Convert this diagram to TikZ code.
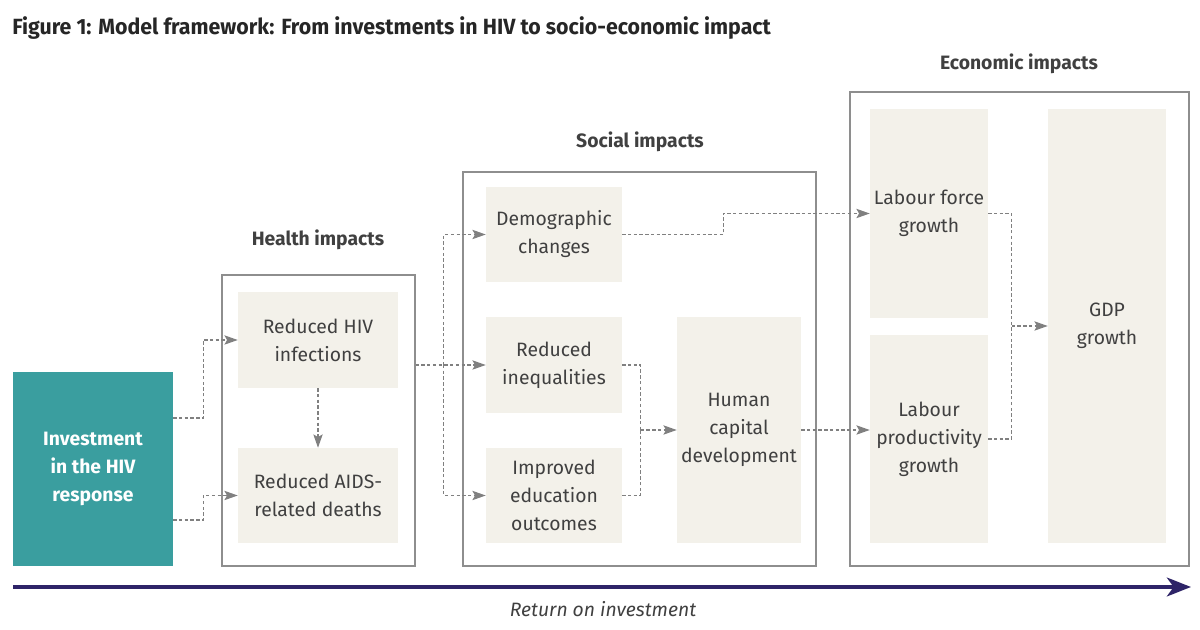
\documentclass[tikz,border=0pt]{standalone}
\usepackage{fontspec}
\setmainfont{Fira Sans}
\usepackage{tikz}
\usetikzlibrary{arrows.meta,positioning,calc}

\definecolor{boxfill}{HTML}{F3F1EA}
\definecolor{framegray}{HTML}{8E8E8E}
\definecolor{flowgray}{HTML}{808080}
\definecolor{textgray}{HTML}{404040}
\definecolor{hivteal}{HTML}{3A9E9F}
\definecolor{roinavy}{HTML}{2E2468}

\begin{document}
\begin{tikzpicture}[
    x = 0.75pt, y = -0.75pt, % pixel grid, y downwards
    boxsize/.style 2 args = {minimum width=#1*0.75pt, minimum height=#2*0.75pt},
    impact/.style = {fill=boxfill, text=textgray, inner sep=0pt, align=center,
        font=\fontsize{14.5}{21}\selectfont},
    frame/.style = {draw=framegray, line width=1pt, inner sep=0pt},
    grouplabel/.style = {text=textgray, font=\fontsize{14.5}{18}\selectfont\bfseries},
    flowline/.style = {draw=flowgray, line width=0.9pt, dash pattern=on 2.5pt off 1.8pt},
    flow/.style = {flowline, -{Stealth[length=10pt, width=7pt, inset=2pt]}},
    roi/.style = {draw=roinavy, line width=3.5pt,
        -{Stealth[length=18pt, width=14pt, inset=5pt]}}
    ]
    \useasboundingbox (0,0) rectangle (1200,630);

    % title
    \node[anchor=base west, inner sep=0pt, text=black!85] (title) at (12,35)
        {\scalebox{0.97}[1]{\fontsize{16.5}{20}\selectfont\bfseries
        Figure 1: Model framework: From investments in HIV to socio-economic impact}};

    % group frames
    \node[frame, boxsize={193}{291}] (health) at (318.5,420.5) {};
    \node[frame, boxsize={353}{394}] (social) at (639.5,369) {};
    \node[frame, boxsize={339}{474}] (econ) at (1019.5,329) {};

    \node[grouplabel] (healthlabel) at (318,240) {Health impacts};
    \node[grouplabel] (sociallabel) at (640,142) {Social impacts};
    \node[grouplabel] (econlabel) at (1019,64) {Economic impacts};

    % investment
    \node[fill=hivteal, text=white, align=center, boxsize={160}{194},
        font=\fontsize{14.5}{21}\selectfont\bfseries] (inv) at (93,469)
        {Investment\\in the HIV\\response};

    % health impacts
    \node[impact, boxsize={160}{96}] (hiv) at (318,340) {Reduced HIV\\infections};
    \node[impact, boxsize={160}{95}] (aids) at (318,495.5) {Reduced AIDS-\\related deaths};

    % social impacts
    \node[impact, boxsize={136}{95}] (demo) at (554,234.5) {Demographic\\changes};
    \node[impact, boxsize={136}{96}] (ineq) at (554,365) {Reduced\\inequalities};
    \node[impact, boxsize={136}{95}] (edu) at (554,495.5) {Improved\\education\\outcomes};
    \node[impact, boxsize={124}{226}] (hcd) at (739,430) {Human\\capital\\development};

    % economic impacts
    \node[impact, boxsize={118}{209}] (lf) at (929,213.5) {Labour force\\growth};
    \node[impact, boxsize={118}{208}] (lp) at (929,439) {Labour\\productivity\\growth};
    \node[impact, boxsize={118}{434}] (gdp) at (1107,326) {GDP\\growth};

    % connectors
    \draw[flow] ($(inv.east)+(0,-51)$) -- ++(30,0) |- (hiv.west);
    \draw[flow] ($(inv.east)+(0,51)$) -- ++(30,0) |- (aids.west);
    \draw[flow] (hiv) -- (aids);

    \coordinate (split) at ($(health.east |- ineq.west)+(28,0)$);
    \draw[flow] (health.east |- ineq.west) -- (ineq.west);
    \draw[flow] (split) |- (demo.west);
    \draw[flow] (split) |- (edu.west);

    \draw[flow] (demo.east) -- ++(101,0) |- (lf.west);

    \coordinate (hcdmerge) at ($(hcd.west)+(-36,0)$);
    \draw[flowline] (ineq.east) -| (hcdmerge);
    \draw[flowline] (edu.east) -| (hcdmerge);
    \draw[flow] (hcdmerge) -- (hcd.west);

    \draw[flow] (hcd.east) -- (hcd.east -| lp.west);

    \coordinate (gdpmerge) at ($(gdp.west)+(-36,0)$);
    \draw[flowline] (lf.east) -| (gdpmerge);
    \draw[flowline] (lp.east) -| (gdpmerge);
    \draw[flow] (gdpmerge) -- (gdp.west);

    % return on investment
    \coordinate (roistart) at (13,587);
    \coordinate (roiend) at (1191,587);
    \draw[roi] (roistart) -- (roiend);
    \node[text=textgray, font=\fontsize{14.5}{18}\selectfont\itshape] (roilabel) at (603,609)
        {Return on investment};
\end{tikzpicture}
\end{document}
